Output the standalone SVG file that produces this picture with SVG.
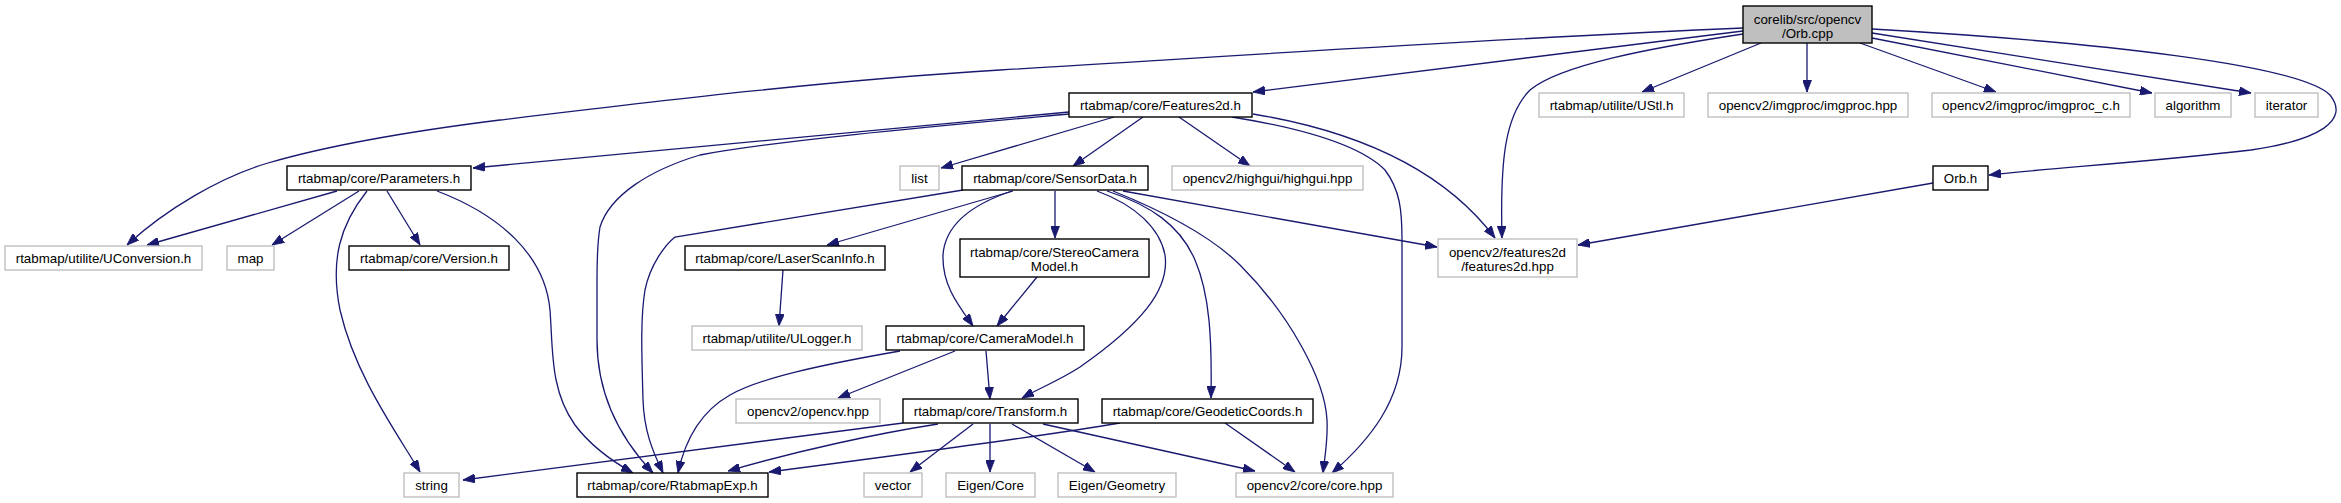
<svg xmlns="http://www.w3.org/2000/svg" width="2341" height="503" viewBox="0 0 2341 503">
<defs>
<marker id="arr" markerUnits="userSpaceOnUse" viewBox="0 0 12 9" refX="12" refY="4.5" markerWidth="12" markerHeight="9" orient="auto">
<path d="M0,0 L12,4.5 L0,9 Z" fill="#191970" stroke="#191970" stroke-width="0.8"/>
</marker>
<style>
.n rect{fill:#fff;stroke:#000;stroke-width:1.4}
.g rect{fill:#fff;stroke:#bfbfbf;stroke-width:1.4}
.root rect{fill:#bfbfbf;stroke:#000;stroke-width:1.4}
text{font-family:"Liberation Sans",Arial,Helvetica,sans-serif;font-size:13.33px;text-anchor:middle;fill:#000}
#edges path{fill:none;stroke:#191970;stroke-width:1.3;marker-end:url(#arr)}
</style>
</defs>
<rect x="0" y="0" width="2341" height="503" fill="#fff"/>
<g id="edges">
<path d="M1743,31 L1253,92"/>
<path d="M1743,28 C1500,38 1250,55 1000,70 C833,80 667,100 500,120 C420,130 330,145 268,163 C220,177 165,210 127,245"/>
<path d="M1743,34 C1650,48 1560,65 1530,90 C1505,115 1500,160 1502,238"/>
<path d="M1761,43 L1642,92"/>
<path d="M1807,43 L1807,92"/>
<path d="M1860,43 L1996,92"/>
<path d="M1872,38 L2152,93"/>
<path d="M1872,33 L2251,93"/>
<path d="M1872,29 C2100,42 2300,65 2330,95 C2350,120 2320,140 2251,150 C2150,162 2050,168 1989,175"/>
<path d="M1069,112 L473,168"/>
<path d="M1069,114 C950,125 780,140 700,155 C650,170 610,195 600,227 C597,245 597,260 597,280 L597,340 C597,390 615,433 653,473"/>
<path d="M1114,117 L941,168"/>
<path d="M1143,117 L1073,166"/>
<path d="M1179,117 L1250,166"/>
<path d="M1253,114 C1350,130 1440,165 1495,238"/>
<path d="M1232,117 C1300,128 1360,145 1385,170 C1400,190 1402,210 1402,240 L1402,347 C1402,400 1370,440 1332,473"/>
<path d="M963,190 L675,237 C665,245 650,265 645,290 C640,320 642,360 643,400 C644,430 652,450 663,473"/>
<path d="M1013,191 L827,245"/>
<path d="M1055,191 L1055,238"/>
<path d="M1012,191 C970,205 945,225 943,255 C942,285 958,305 973,326"/>
<path d="M1097,191 C1135,205 1160,228 1165,255 C1170,290 1140,325 1080,367 C1060,380 1040,388 1022,398"/>
<path d="M1107,191 C1150,205 1180,225 1195,260 C1210,295 1212,340 1211,398"/>
<path d="M1113,191 C1160,210 1210,235 1240,265 C1290,315 1325,380 1327,420 C1328,440 1325,455 1323,473"/>
<path d="M1123,191 L1437,247"/>
<path d="M337,191 L147,245"/>
<path d="M359,191 L272,245"/>
<path d="M387,191 L420,245"/>
<path d="M367,191 C340,225 330,260 340,310 C355,375 395,430 420,472"/>
<path d="M437,191 C500,215 545,255 550,310 C553,350 550,390 575,425 C590,445 610,460 633,473"/>
<path d="M903,423 L463,480"/>
<path d="M938,424 C880,433 800,450 728,471"/>
<path d="M1120,423 C1050,435 900,455 769,472"/>
<path d="M1225,423 L1295,472"/>
<path d="M1043,424 L1255,471"/>
<path d="M973,424 L910,472"/>
<path d="M990,424 L990,472"/>
<path d="M1012,424 L1095,472"/>
<path d="M900,351 C820,365 760,378 730,395 C700,412 685,440 678,473"/>
<path d="M955,351 L838,398"/>
<path d="M986,351 L990,399"/>
<path d="M1037,277 L997,326"/>
<path d="M783,270 L779,326"/>
<path d="M1933,183 L1578,245"/>
</g>
<g id="orb_cpp" class="root"><rect x="1743" y="6" width="129" height="37"/><text x="1807.5" y="23.5">corelib/src/opencv</text><text x="1807.5" y="37.5">/Orb.cpp</text></g>
<g id="features2d_h" class="n"><rect x="1069" y="93" width="183" height="24"/><text x="1160.5" y="110">rtabmap/core/Features2d.h</text></g>
<g id="ustl_h" class="g"><rect x="1539" y="93" width="145" height="24"/><text x="1611.5" y="110">rtabmap/utilite/UStl.h</text></g>
<g id="imgproc_hpp" class="g"><rect x="1708" y="93" width="200" height="24"/><text x="1808" y="110">opencv2/imgproc/imgproc.hpp</text></g>
<g id="imgproc_c_h" class="g"><rect x="1932" y="93" width="198" height="24"/><text x="2031" y="110">opencv2/imgproc/imgproc_c.h</text></g>
<g id="algorithm" class="g"><rect x="2155" y="93" width="76" height="24"/><text x="2193" y="110">algorithm</text></g>
<g id="iterator" class="g"><rect x="2255" y="93" width="63" height="24"/><text x="2286.5" y="110">iterator</text></g>
<g id="orb_h" class="n"><rect x="1933" y="166" width="55" height="24"/><text x="1960.5" y="183">Orb.h</text></g>
<g id="parameters_h" class="n"><rect x="287" y="166" width="184" height="24"/><text x="379" y="183">rtabmap/core/Parameters.h</text></g>
<g id="list" class="g"><rect x="900" y="166" width="39" height="24"/><text x="919.5" y="183">list</text></g>
<g id="sensordata_h" class="n"><rect x="962" y="166" width="186" height="24"/><text x="1055" y="183">rtabmap/core/SensorData.h</text></g>
<g id="highgui_hpp" class="g"><rect x="1172" y="166" width="191" height="24"/><text x="1267.5" y="183">opencv2/highgui/highgui.hpp</text></g>
<g id="uconversion_h" class="g"><rect x="5" y="246" width="197" height="24"/><text x="103.5" y="263">rtabmap/utilite/UConversion.h</text></g>
<g id="map" class="g"><rect x="227" y="246" width="47" height="24"/><text x="250.5" y="263">map</text></g>
<g id="version_h" class="n"><rect x="349" y="246" width="160" height="24"/><text x="429" y="263">rtabmap/core/Version.h</text></g>
<g id="laserscaninfo_h" class="n"><rect x="685" y="246" width="200" height="24"/><text x="785" y="263">rtabmap/core/LaserScanInfo.h</text></g>
<g id="stereocameramodel_h" class="n"><rect x="960" y="239" width="189" height="38"/><text x="1054.5" y="256.5">rtabmap/core/StereoCamera</text><text x="1054.5" y="270.5">Model.h</text></g>
<g id="features2d_hpp" class="g"><rect x="1438" y="239" width="139" height="38"/><text x="1507.5" y="256.5">opencv2/features2d</text><text x="1507.5" y="270.5">/features2d.hpp</text></g>
<g id="ulogger_h" class="g"><rect x="692" y="326" width="170" height="24"/><text x="777" y="343">rtabmap/utilite/ULogger.h</text></g>
<g id="cameramodel_h" class="n"><rect x="886" y="326" width="198" height="24"/><text x="985" y="343">rtabmap/core/CameraModel.h</text></g>
<g id="opencv_hpp" class="g"><rect x="736" y="399" width="144" height="24"/><text x="808" y="416">opencv2/opencv.hpp</text></g>
<g id="transform_h" class="n"><rect x="903" y="399" width="175" height="24"/><text x="990.5" y="416">rtabmap/core/Transform.h</text></g>
<g id="geodeticcoords_h" class="n"><rect x="1102" y="399" width="211" height="24"/><text x="1207.5" y="416">rtabmap/core/GeodeticCoords.h</text></g>
<g id="string" class="g"><rect x="404" y="473" width="55" height="24"/><text x="431.5" y="490">string</text></g>
<g id="rtabmapexp_h" class="n"><rect x="577" y="473" width="191" height="24"/><text x="672.5" y="490">rtabmap/core/RtabmapExp.h</text></g>
<g id="vector" class="g"><rect x="864" y="473" width="58" height="24"/><text x="893" y="490">vector</text></g>
<g id="eigen_core" class="g"><rect x="946" y="473" width="89" height="24"/><text x="990.5" y="490">Eigen/Core</text></g>
<g id="eigen_geometry" class="g"><rect x="1058" y="473" width="118" height="24"/><text x="1117" y="490">Eigen/Geometry</text></g>
<g id="core_hpp" class="g"><rect x="1236" y="473" width="157" height="24"/><text x="1314.5" y="490">opencv2/core/core.hpp</text></g>
</svg>
